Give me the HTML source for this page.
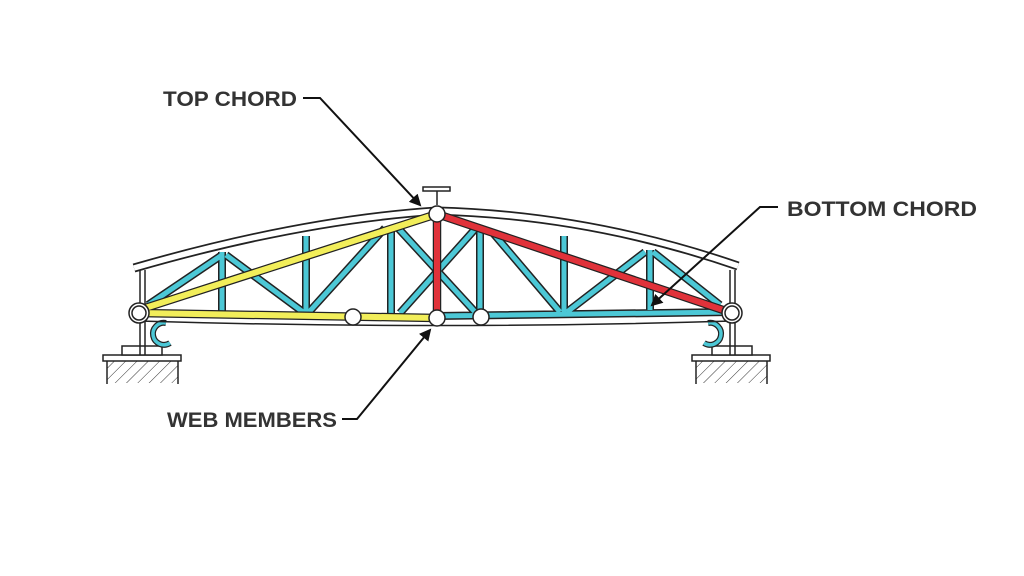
<!DOCTYPE html>
<html><head><meta charset="utf-8"><style>
html,body{margin:0;padding:0;background:#fff;width:1024px;height:576px;overflow:hidden}
text{font-family:"Liberation Sans",sans-serif;font-weight:bold;fill:#333;font-size:21px}
</style></head><body>
<svg width="1024" height="576" viewBox="0 0 1024 576" xmlns="http://www.w3.org/2000/svg">
<defs>
<pattern id="h" width="8" height="8" patternUnits="userSpaceOnUse" patternTransform="rotate(45)">
<line x1="0" y1="0" x2="0" y2="8" stroke="#333" stroke-width="1"/></pattern>
<marker id="a" markerWidth="12" markerHeight="12" refX="10" refY="6" orient="auto" markerUnits="userSpaceOnUse">
<path d="M0,0 L12,6 L0,12 z" fill="#111"/></marker>
</defs>
<!-- supports -->
<g stroke="#222" stroke-width="1.5">
<rect x="107" y="361" width="71" height="22" fill="url(#h)" stroke="none"/>
<line x1="107" y1="361" x2="107" y2="384"/><line x1="178" y1="361" x2="178" y2="384"/>
<rect x="103" y="355" width="78" height="6" fill="#fff"/>
<rect x="122" y="346" width="40" height="9" fill="#fff"/>
<line x1="140" y1="270" x2="140" y2="355"/><line x1="145" y1="270" x2="145" y2="355"/>
<rect x="696" y="361" width="71" height="22" fill="url(#h)" stroke="none"/>
<line x1="696" y1="361" x2="696" y2="384"/><line x1="767" y1="361" x2="767" y2="384"/>
<rect x="692" y="355" width="78" height="6" fill="#fff"/>
<rect x="712" y="346" width="40" height="9" fill="#fff"/>
<line x1="730" y1="270" x2="730" y2="355"/><line x1="735" y1="270" x2="735" y2="355"/>
</g>
<path d="M166,323 A11,11 0 1 0 170,343" fill="none" stroke="#222" stroke-width="6"/>
<path d="M166,323 A11,11 0 1 0 170,343" fill="none" stroke="#4cc8d6" stroke-width="3.5"/>
<path d="M708,323 A11,11 0 1 1 704,343" fill="none" stroke="#222" stroke-width="6"/>
<path d="M708,323 A11,11 0 1 1 704,343" fill="none" stroke="#4cc8d6" stroke-width="3.5"/>
<!-- top chord -->
<path d="M134,268 Q300,220 437,211 Q590,215 738,266" fill="none" stroke="#222" stroke-width="9"/>
<path d="M134,268 Q300,220 437,211 Q590,215 738,266" fill="none" stroke="#fff" stroke-width="5.5"/>
<!-- bottom chord lower line -->
<path d="M139,321 Q437,330 732,321" fill="none" stroke="#222" stroke-width="1.5"/>
<!-- cyan members -->
<g stroke="#222" stroke-width="8">
<path d="M222,252V312M306,236V314M391,226V315M480,226V315M564,236V312M650,250V310M148,305L222,255M226,255L303,312M309,312L385,228M398,228L476,313M476,228L400,313M493,233L560,312M567,312L645,252M653,252L720,305M437,316L732,312"/>
</g>
<g stroke="#4cc8d6" stroke-width="5">
<path d="M222,252V312M306,236V314M391,226V315M480,226V315M564,236V312M650,250V310M148,305L222,255M226,255L303,312M309,312L385,228M398,228L476,313M476,228L400,313M493,233L560,312M567,312L645,252M653,252L720,305M437,316L732,312"/>
</g>
<!-- yellow -->
<g stroke="#222" stroke-width="8.5"><path d="M139,310L437,214M139,313L437,318"/></g>
<g stroke="#f2ee5a" stroke-width="6"><path d="M139,310L437,214M139,313L437,318"/></g>
<!-- red -->
<g stroke="#222" stroke-width="8.5"><path d="M437,214V318M437,214L732,313"/></g>
<g stroke="#e0323a" stroke-width="6"><path d="M437,214V318M437,214L732,313"/></g>
<!-- T -->
<g stroke="#222" stroke-width="1.5" fill="#fff"><rect x="423" y="187" width="27" height="4"/><line x1="437" y1="191" x2="437" y2="205"/></g>
<!-- nodes -->
<g fill="#fff" stroke="#222" stroke-width="1.5">
<circle cx="139" cy="313" r="10"/><circle cx="139" cy="313" r="7"/>
<circle cx="732" cy="313" r="10"/><circle cx="732" cy="313" r="7"/>
<circle cx="437" cy="214" r="8"/><circle cx="437" cy="318" r="8"/>
<circle cx="353" cy="317" r="8"/><circle cx="481" cy="317" r="8"/>
</g>
<!-- labels -->
<text x="163" y="106" textLength="134" lengthAdjust="spacingAndGlyphs">TOP CHORD</text>
<text x="787" y="216" textLength="190" lengthAdjust="spacingAndGlyphs">BOTTOM CHORD</text>
<text x="167" y="427" textLength="170" lengthAdjust="spacingAndGlyphs">WEB MEMBERS</text>
<g fill="none" stroke="#111" stroke-width="2">
<path d="M303,98H320L420,205" marker-end="url(#a)"/>
<path d="M778,207H760L652,305" marker-end="url(#a)"/>
<path d="M342,419H357L430,330" marker-end="url(#a)"/>
</g>
</svg>
</body></html>
